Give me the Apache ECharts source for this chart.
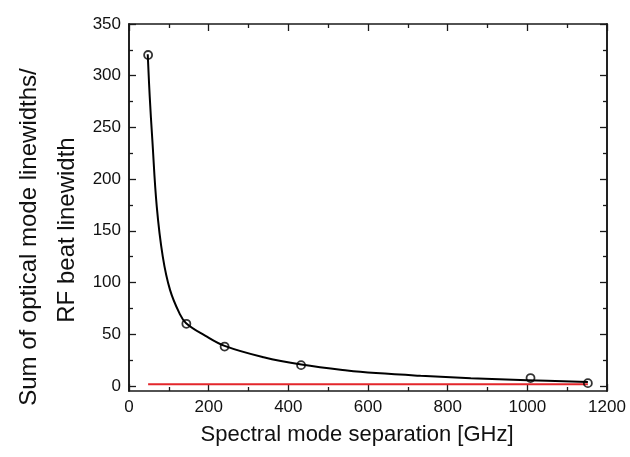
<!DOCTYPE html>
<html>
<head>
<meta charset="utf-8">
<script src="https://cdn.jsdelivr.net/npm/echarts@6/dist/echarts.min.js"></script>
<style>
    html, body { margin: 0; padding: 0; background: #fff; }
    #chart { width: 630px; height: 457px; }
</style>
</head>
<body>
<div id="chart"></div>
<script>
// 测量点
var pointsX = [48, 144, 240, 432, 1008, 1152];
var pointsY = [320, 60, 38, 20, 7.5, 2.6];

// 拟合曲线
var fitX = [47, 52, 58.6, 69.7, 84.8, 103, 126.5, 143.4, 191, 240, 338, 432.7, 547.6, 620, 732, 858, 1000, 1152];
var fitY = [320.7, 280, 237.8, 173.4, 125, 92.8, 70.3, 60.6, 48.6, 38.7, 27.7, 20.6, 14.8, 12.3, 9.7, 7.4, 5.5, 3.6];

// 红线
var refX = [48, 1152];
var refY = [1.6, 1.6];

// 刻度
var xMin = 0, xMax = 1200, xStep = 200;
var yMin = -5, yMax = 350;
var yMajorTicks = [0, 50, 100, 150, 200, 250, 300, 350];
var yMinorTicks = [25, 75, 125, 175, 225, 275, 325];

var xTitle = 'Spectral mode separation [GHz]';
var yTitle1 = 'Sum of optical mode linewidths/';
var yTitle2 = 'RF beat linewidth';

function pairs(xs, ys) {
    var out = [];
    for (var i = 0; i < xs.length; i++) {
        out.push([xs[i], ys[i]]);
    }
    return out;
}

var axisColor = '#1a1a1a';
var font = 'Liberation Sans, Arial, sans-serif';

function yAxisDef(pos, ticks, len, withLabel) {
    return {
        type: 'value',
        position: pos,
        min: yMin,
        max: yMax,
        axisLine: {show: true, onZero: false, lineStyle: {color: axisColor, width: 1.6}},
        axisTick: {show: true, inside: true, length: len, customValues: ticks, lineStyle: {color: axisColor, width: 1.3}},
        axisLabel: {show: withLabel, customValues: yMajorTicks, color: '#111', fontSize: 17, fontFamily: font, margin: 8},
        splitLine: {show: false}
    };
}

function xAxisDef(pos, withLabel) {
    return {
        type: 'value',
        position: pos,
        min: xMin,
        max: xMax,
        interval: xStep,
        axisLine: {show: true, onZero: false, lineStyle: {color: axisColor, width: 1.6}},
        axisTick: {show: true, inside: true, length: 7, lineStyle: {color: axisColor, width: 1.3}},
        minorTick: {show: true, splitNumber: 2, length: 4, lineStyle: {color: axisColor, width: 1.3}},
        axisLabel: {
            show: withLabel, color: '#111', fontSize: 17, fontFamily: font, margin: 8,
            formatter: function (v) { return String(v); }
        },
        splitLine: {show: false}
    };
}

function titleText(text, x, y, rot, size) {
    return {
        type: 'text',
        x: x,
        y: y,
        rotation: rot,
        style: {
            text: text,
            fill: '#111',
            font: size + 'px ' + font,
            align: 'center',
            verticalAlign: 'middle'
        }
    };
}

var myChart = echarts.init(document.getElementById('chart'));
var option = {
    backgroundColor: '#fff',
    animation: false,
    grid: {left: 129, right: 23, top: 24, bottom: 66, containLabel: false, outerBoundsMode: 'none'},
    xAxis: [xAxisDef('bottom', true), xAxisDef('top', false)],
    yAxis: [
        yAxisDef('left', yMajorTicks, 7, true),
        yAxisDef('left', yMinorTicks, 4, false),
        yAxisDef('right', yMajorTicks, 7, false),
        yAxisDef('right', yMinorTicks, 4, false)
    ],
    graphic: [
        titleText(xTitle, 357, 435, 0, 22),
        titleText(yTitle1, 29, 237, Math.PI / 2, 24),
        titleText(yTitle2, 67, 230, Math.PI / 2, 24)
    ],
    series: [
        {
            type: 'line',
            data: pairs(fitX, fitY),
            smooth: 0.4,
            showSymbol: false,
            lineStyle: {color: '#000', width: 2},
            z: 2
        },
        {
            type: 'line',
            data: pairs(refX, refY),
            showSymbol: false,
            lineStyle: {color: '#e3262b', width: 2},
            z: 3
        },
        {
            type: 'scatter',
            data: pairs(pointsX, pointsY),
            symbol: 'circle',
            symbolSize: 8,
            itemStyle: {color: 'rgba(255,255,255,0)', borderColor: '#000', borderWidth: 1.8},
            z: 4
        }
    ]
};
myChart.setOption(option);
</script>
</body>
</html>
